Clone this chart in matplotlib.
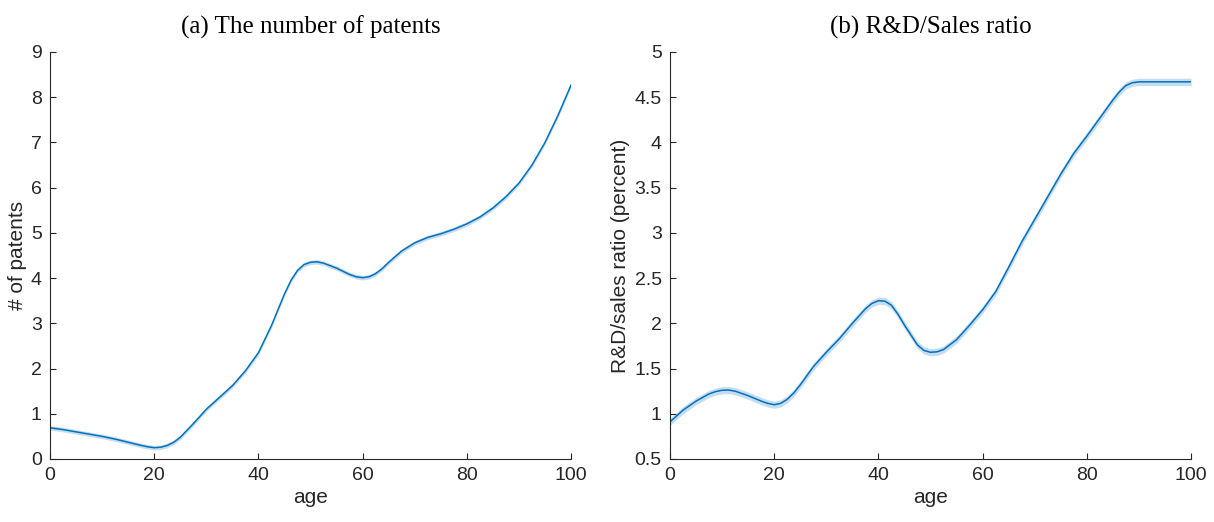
import numpy as np
import matplotlib.pyplot as plt

# ---------------------------------------------------------
# data
# ---------------------------------------------------------
age_a = [0, 2.5, 5, 7.5, 10, 12.5, 15, 17.5, 18.75, 20, 21.25, 22.5, 23.75,
         25, 27.5, 30, 32.5, 35, 37.5, 40, 42.5, 45, 46.25, 47.5, 48.75,
         50, 51.25, 52.5, 55, 57.5, 58.75, 60, 61.25, 62.5, 63.75, 65,
         67.5, 70, 72.5, 75, 77.5, 80, 82.5, 85, 87.5, 90, 92.5, 95,
         97.5, 100]
patents = [0.69, 0.65, 0.60, 0.55, 0.50, 0.44, 0.37, 0.30, 0.27, 0.25,
           0.26, 0.30, 0.37, 0.48, 0.78, 1.10, 1.36, 1.62, 1.95, 2.35,
           2.95, 3.65, 3.95, 4.17, 4.30, 4.35, 4.36, 4.33, 4.22, 4.08,
           4.03, 4.01, 4.03, 4.10, 4.21, 4.35, 4.60, 4.78, 4.90, 4.98,
           5.08, 5.20, 5.35, 5.55, 5.80, 6.10, 6.50, 7.00, 7.60, 8.27]
patents_ci = 0.05

age_b = [0, 2.5, 5, 7.5, 8.75, 10, 11.25, 12.5, 15, 17.5, 18.75, 20, 21.25,
         22.5, 23.75, 25, 27.5, 30, 32.5, 35, 37.5, 38.75, 40, 41.25, 42.5,
         43.75, 45, 47.5, 48.75, 50, 51.25, 52.5, 55, 57.5, 60, 62.5, 65,
         67.5, 70, 72.5, 75, 77.5, 80, 82.5, 85, 86.25, 87.5, 88.75, 90,
         92.5, 95, 97.5, 100]
rd_ratio = [0.91, 1.04, 1.14, 1.22, 1.245, 1.26, 1.262, 1.25, 1.20, 1.14,
            1.115, 1.10, 1.115, 1.16, 1.23, 1.32, 1.52, 1.68, 1.83, 2.00,
            2.16, 2.22, 2.25, 2.245, 2.20, 2.10, 1.98, 1.76, 1.70, 1.68,
            1.685, 1.71, 1.82, 1.98, 2.15, 2.35, 2.62, 2.90, 3.15, 3.40,
            3.65, 3.88, 4.07, 4.27, 4.47, 4.56, 4.63, 4.66, 4.67, 4.67,
            4.67, 4.67, 4.67]
rd_ci = 0.04

x_ticks = [0, 20, 40, 60, 80, 100]
left_yticks = list(range(0, 10))
right_yticks = [0.5, 1, 1.5, 2, 2.5, 3, 3.5, 4, 4.5, 5]

LINE = "#0072BD"
BAND = "#c6dcf0"
AXC = "#262626"

plt.rcParams["font.family"] = ["Liberation Sans", "DejaVu Sans"]


def style_axis(ax, yticks, ylabel):
    ax.set_xlim(0, 100)
    ax.set_ylim(yticks[0], yticks[-1])
    ax.set_xticks(x_ticks)
    ax.set_yticks(yticks)
    ax.set_yticklabels([f"{t:g}" for t in yticks])
    ax.spines["top"].set_visible(False)
    ax.spines["right"].set_visible(False)
    for s in ("left", "bottom"):
        ax.spines[s].set_color(AXC)
        ax.spines[s].set_linewidth(0.8)
    ax.tick_params(direction="in", length=4, width=0.8, colors=AXC,
                   labelsize=14, pad=6)
    ax.set_xlabel("age", fontsize=15, color=AXC, labelpad=3)
    ax.set_ylabel(ylabel, fontsize=15, color=AXC, labelpad=3)


fig = plt.figure(figsize=(12.14, 5.22), dpi=100)
ax1 = fig.add_axes([0.0412, 0.1207, 0.4292, 0.7797])
ax2 = fig.add_axes([0.5519, 0.1207, 0.4292, 0.7797])

# (a) patents
p = np.array(patents)
ax1.fill_between(age_a, p - patents_ci, p + patents_ci, color=BAND, lw=0)
ax1.plot(age_a, p, color=LINE, lw=1.1, solid_joinstyle="round")
style_axis(ax1, left_yticks, "# of patents")
ax1.set_title("(a) The number of patents", fontsize=18,
              family="Liberation Serif", pad=13)

# (b) R&D / sales
r = np.array(rd_ratio)
ax2.fill_between(age_b, r - rd_ci, r + rd_ci, color=BAND, lw=0)
ax2.plot(age_b, r, color=LINE, lw=1.1, solid_joinstyle="round")
style_axis(ax2, right_yticks, "R&D/sales ratio (percent)")
ax2.set_title("(b) R&D/Sales ratio", fontsize=18,
              family="Liberation Serif", pad=13)

fig.savefig("out.png", dpi=100)
